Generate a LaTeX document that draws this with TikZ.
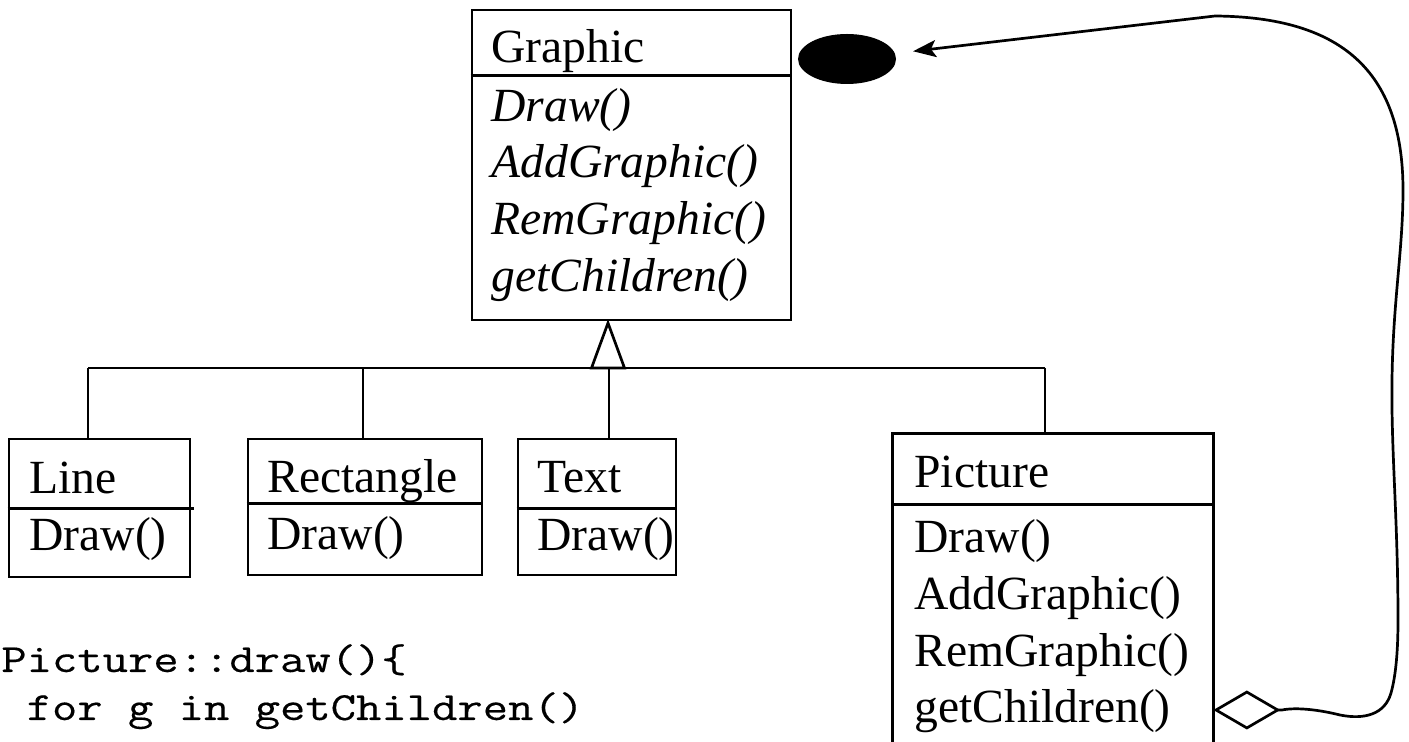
\documentclass[tikz,border=0pt]{standalone}
\usepackage{fontspec}
\setmainfont{Liberation Serif}
\newfontfamily\codefont{Latin Modern Mono}[FakeStretch=1.23,FakeBold=0.35]
\usetikzlibrary{arrows.meta,shapes.geometric,fit}

\begin{document}
\begin{tikzpicture}[x=0.5pt,y=-0.5pt,line width=1.35pt,
  classbox/.style={draw,inner sep=0pt,fit={#1}},
  openbox/.style={inner sep=0pt,fit={#1}},
  lbl/.style={inner sep=0pt,anchor=base west,font=\fontsize{23.8pt}{28pt}\selectfont},
  abstractop/.style={lbl,font=\fontsize{23.8pt}{28pt}\selectfont\itshape},
  codeline/.style={inner sep=0pt,anchor=base west,font=\codefont\fontsize{20pt}{24pt}\selectfont},
  objdot/.style={ellipse,fill=black,inner sep=0pt,minimum width=49pt,minimum height=25pt},
  assoc/.style={{Diamond[open,length=33.5pt,width=19.5pt]}-{Stealth[length=11.5pt,width=8.5pt,inset=2.5pt]},
                shorten >=8.5pt}]
\useasboundingbox (0,0) rectangle (1409,742);

% abstract component class
\node[classbox={(472,10) (791,320)}] (graphic) {};
\draw ([yshift=-33.5pt]graphic.north west) -- ([yshift=-33.5pt]graphic.north east);
\node[lbl] (gname) at (490,63) {Graphic};
\node[abstractop] (gop1) at (490,122) {Draw()};
\node[abstractop] (gop2) at (490,178) {AddGraphic()};
\node[abstractop] (gop3) at (490,235) {RemGraphic()};
\node[abstractop] (gop4) at (490,292) {getChildren()};

% the object the composite refers to
\node[objdot] (obj) at (847,59) {};

% leaf classes
\node[classbox={(9,439) (190,577)}] (line) {};
\draw ([yshift=-35.5pt]line.north west) -- ([yshift=-35.5pt,xshift=1.5pt]line.north east);
\node[lbl] (lname) at (28,494) {Line};
\node[lbl] (lop) at (28,551) {Draw()};

\node[classbox={(248,439) (482,575)}] (rect) {};
\draw ([yshift=-33pt]rect.north west) -- ([yshift=-33pt]rect.north east);
\node[lbl] (rname) at (266,493) {Rectangle};
\node[lbl] (rop) at (266,550) {Draw()};

\node[classbox={(518,439) (676,575)}] (text) {};
\draw ([yshift=-35.5pt]text.north west) -- ([yshift=-35.5pt]text.north east);
\node[lbl] (tname) at (536,493) {Text};
\node[lbl] (top) at (536,551) {Draw()};

% composite class (runs off the bottom edge)
\node[openbox={(894,435) (1212,742)}] (picture) {};
\draw (picture.south west) |- (picture.north east) -- (picture.south east);
\draw ([yshift=-35.5pt]picture.north west) -- ([yshift=-35.5pt]picture.north east);
\node[lbl] (pname) at (913,488) {Picture};
\node[lbl] (pop1) at (913,553) {Draw()};
\node[lbl] (pop2) at (913,610) {AddGraphic()};
\node[lbl] (pop3) at (913,667) {RemGraphic()};
\node[lbl] (pop4) at (913,723) {getChildren()};

% generalization: triangle and shared bar
\coordinate (apex) at (608,323);
\coordinate (barL) at (88,368);
\coordinate (barRect) at (363,368);
\coordinate (barText) at (609,368);
\coordinate (barR) at (1045,368);
\draw (barL) -- (barR);
\draw (apex) -- ++(-16.5,45) -- ++(33,0) -- cycle;
\draw (barL) -- (barL |- line.north);
\draw (barRect) -- (barRect |- rect.north);
\draw (barText) -- (barText |- text.north);
\draw (barR) -- (barR |- picture.north);

% aggregation from Picture back to its children
\coordinate (ylev) at (0,710);
\coordinate (aggstart) at (picture.east |- ylev);
\draw[assoc] (aggstart) -- (1282,710)
  .. controls (1297,707) and (1320,710) .. (1340,715)
  .. controls (1365,720) and (1385,714) .. (1391,693)
  .. controls (1396,675) and (1398,650) .. (1398,620)
  .. controls (1398,520) and (1391,450) .. (1392,380)
  .. controls (1393,300) and (1403,250) .. (1403,190)
  .. controls (1403,70) and (1340,17) .. (1215,16)
  -- (obj);

% pseudo-code
\node[codeline] (code1) at (0,672) {Picture::draw()\{};
\node[codeline] (code2) at (0,720) {\ for g in getChildren()};
\end{tikzpicture}
\end{document}
